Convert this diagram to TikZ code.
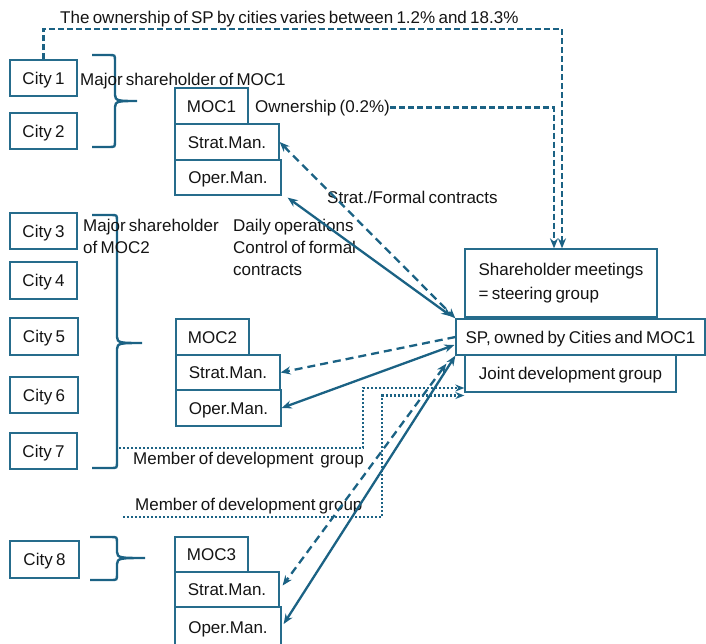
\documentclass[tikz,border=0pt]{standalone}
\usepackage{fontspec}
\setmainfont{Liberation Sans}[WordSpace=0.7]
\usetikzlibrary{arrows.meta,calc}
\definecolor{lcol}{RGB}{27,98,132}
\definecolor{bcol}{RGB}{38,108,140}
\definecolor{tcol}{RGB}{20,20,20}
\newcommand{\ppbrace}[6]{% left x, vertical x, tip x, top y, tip y, bottom y
  \draw[brc] (#1,#4) -- ({#2-6},#4) .. controls (#2,#4) .. (#2,{#4+6})
    -- (#2,{#5-6}) .. controls (#2,#5) and ({#2+4},#5) .. (#3,#5)
    .. controls ({#2+4},#5) and (#2,#5) .. (#2,{#5+6})
    -- (#2,{#6-6}) .. controls (#2,#6) .. ({#2-6},#6) -- (#1,#6);}
\begin{document}
\begin{tikzpicture}[x=1pt,y=-1pt,
  every node/.style={text=tcol,font=\fontsize{17}{22}\selectfont},
  box/.style={draw=bcol,line width=1.3pt,fill=white,inner sep=0pt,
    text height=12pt,text depth=0pt,align=center},
  lbl/.style={inner sep=0pt,anchor=base west,align=left},
  mlbl/.style={inner sep=0pt,anchor=north west,align=left},
  brc/.style={draw=lcol,line width=2.4pt},
  sol/.style={draw=lcol,line width=2.3pt},
  dshB/.style={draw=lcol,line width=2.3pt,dash pattern=on 8pt off 5pt},
  dshA/.style={draw=lcol,line width=2.4pt,dash pattern=on 6pt off 3pt},
  dotl/.style={draw=lcol,line width=2.3pt,dash pattern=on 2pt off 2pt},
  >={Stealth[length=10pt,width=8pt]}]
\useasboundingbox (0,0) rectangle (706,643);

% cities
\node[box,minimum width=67pt,minimum height=36pt] (c1) at (43.5,78) {City 1};
\node[box,minimum width=67pt,minimum height=36pt] (c2) at (43.5,131) {City 2};
\node[box,minimum width=67pt,minimum height=36pt] (c3) at (43.5,231) {City 3};
\node[box,minimum width=67pt,minimum height=37pt] (c4) at (43.5,280.5) {City 4};
\node[box,minimum width=68pt,minimum height=37pt] (c5) at (44,336.5) {City 5};
\node[box,minimum width=68pt,minimum height=36pt] (c6) at (44,395) {City 6};
\node[box,minimum width=67pt,minimum height=36pt] (c7) at (43.5,451) {City 7};
\node[box,minimum width=69pt,minimum height=37pt] (c8) at (44.5,559.5) {City 8};

% MOCs
\node[box,minimum width=73pt,minimum height=36pt] (m1) at (211.5,106) {MOC1};
\node[box,minimum width=104pt,minimum height=36pt] (s1) at (227,142) {Strat.Man.};
\node[box,minimum width=106pt,minimum height=35pt] (o1) at (228,177.5) {Oper.Man.};
\node[box,minimum width=73pt,minimum height=36pt] (m2) at (212.5,337) {MOC2};
\node[box,minimum width=104pt,minimum height=35pt] (s2) at (228,372.5) {Strat.Man.};
\node[box,minimum width=105pt,minimum height=36pt] (o2) at (228.5,408) {Oper.Man.};
\node[box,minimum width=73pt,minimum height=35pt] (m3) at (211.5,554.5) {MOC3};
\node[box,minimum width=104pt,minimum height=35pt] (s3) at (227,589.5) {Strat.Man.};
\node[box,minimum width=106pt,minimum height=40pt] (o3) at (228,627) {Oper.Man.};

% SP side
\node[draw=bcol,line width=1.3pt,fill=white,inner sep=0pt,minimum width=192pt,minimum height=68pt,
  align=left,font=\fontsize{17}{24}\selectfont] (sh) at (561,283) {Shareholder meetings\\= steering group};
\node[box,minimum width=211pt,minimum height=37pt] (jd) at (570.5,373.5) {Joint development group};
\node[box,minimum width=249pt,minimum height=36pt] (sp) at (580.5,337) {SP, owned by Cities and MOC1};

% braces
\ppbrace{92}{115}{137}{55}{101}{147}
\ppbrace{92}{117}{142}{215}{343}{468}
\ppbrace{90}{117}{145}{537}{558}{580}

% labels
\node[lbl] (ttl) at (60,23) {The ownership of SP by cities varies between 1.2\% and 18.3\%};
\node[lbl] (maj1) at (80,85) {Major shareholder of MOC1};
\node[lbl] (own) at (255,112) {Ownership (0.2\%)};
\node[lbl] (strat) at (327,203) {Strat./Formal contracts};
\node[mlbl] (maj2) at (83,218.5) {Major shareholder\\of MOC2};
\node[mlbl] (daily) at (233,218.5) {Daily operations\\Control of formal\\contracts};
\node[lbl] (mem1) at (133,464) {Member of development~ group};
\node[lbl] (mem2) at (135,510) {Member of development group};

% ownership lines
\coordinate (topR) at (562,29);
\coordinate (innR) at (554,106);
\draw[dshA,->] (c1.north) |- (topR) -- (topR |- sh.north);
\draw[dshA,->] (own.east) -| (innR |- sh.north);

% contract lines
\draw[dshB,<->] (s1.east) -- (sp.north west);
\draw[sol,<->] ([shift={(6,2)}]o1.south east) -- ([shift={(-4,-2)}]sp.north west);
\draw[dshB,->] (sp.west) -- (s2.east);
\draw[sol,<->] ([shift={(-1,8)}]sp.west) -- (o2.east);
\draw[dshB,<->] ([shift={(-9,8)}]sp.south west) -- ([shift={(3,-4)}]s3.east);
\draw[sol,<->] (sp.south west) -- ([shift={(2,-3)}]o3.east);

% development group lines
\coordinate (d1s) at (119,448);
\coordinate (d1c) at (363,448);
\coordinate (d2s) at (123,517);
\coordinate (d2c) at (382,517);
\draw[dotl,-{Stealth[length=9pt,width=7pt]}] (d1s) -- (d1c) |- ([shift={(0,14.5)}]jd.west);
\draw[dotl,-{Stealth[length=9pt,width=7pt]}] (d2s) -- (d2c) |- ([shift={(0,22)}]jd.west);
\end{tikzpicture}
\end{document}
